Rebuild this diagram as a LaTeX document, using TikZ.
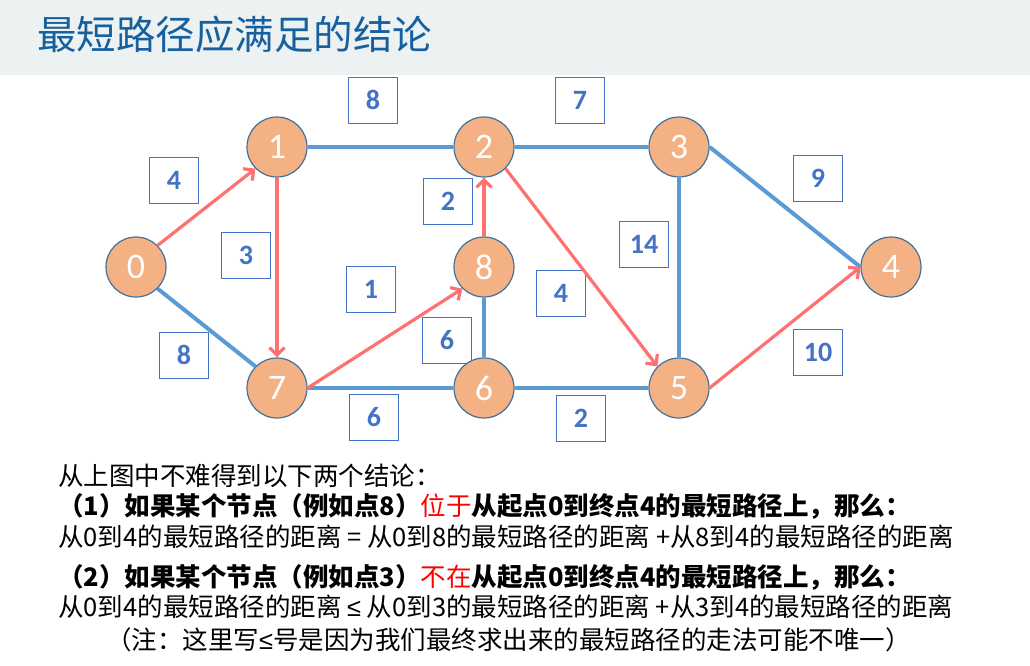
\documentclass[tikz,border=0pt]{standalone}
\usepackage{fontspec}
\setmainfont{Carlito}
\newfontfamily\cjk{Noto Sans CJK SC}
\newfontfamily\symf{Liberation Sans}
\usetikzlibrary{arrows.meta}
\definecolor{titlebg}{HTML}{ECF1F1}
\definecolor{titleblue}{HTML}{16609F}
\definecolor{nodefill}{HTML}{F4B183}
\definecolor{nodeedge}{HTML}{41719C}
\definecolor{boxblue}{HTML}{4472C4}
\definecolor{edgeblue}{HTML}{5B9BD5}
\definecolor{arrred}{HTML}{FF7070}
\definecolor{hired}{HTML}{FF0000}
\tikzset{
  vtx/.style={circle, fill=nodefill, draw=nodeedge, line width=1.2pt, minimum size=60pt, inner sep=0pt, text=white, font=\fontsize{36}{36}\selectfont},
  wbox/.style={draw=boxblue, line width=1pt, fill=white, minimum width=49pt, minimum height=46pt, inner sep=0pt, text=boxblue, font=\bfseries\fontsize{28}{28}\selectfont},
  bedge/.style={draw=edgeblue, line width=4pt},
  redge/.style={draw=arrred, line width=3.2pt, -{Straight Barb[length=7.5pt,width=15pt]}},
  txt/.style={anchor=west, inner sep=0pt, text=black, font=\cjk\fontsize{25.5}{25.5}\selectfont},
  ttl/.style={anchor=west, inner sep=0pt, text=titleblue, font=\cjk\fontsize{39.5}{39.5}\selectfont},
}
\begin{document}
\begin{tikzpicture}[x=1pt, y=-1pt]
\useasboundingbox (0,0) rectangle (1030,665);
\fill[titlebg] (0,0) rectangle (1030,75);
\node[ttl] (title) at (37,34) {最短路径应满足的结论};
% weight boxes
\node[wbox] (w12) at (373,100) {8};
\node[wbox] (w23) at (580,100) {7};
\node[wbox] (w01) at (174,180) {4};
\node[wbox] (w17) at (246,255) {3};
\node[wbox] (w82) at (448,201) {2};
\node[wbox] (w78) at (371,289) {1};
\node[wbox] (w07) at (184,355) {8};
\node[wbox] (w86) at (447,340) {6};
\node[wbox] (w76) at (374,417) {6};
\node[wbox] (w34) at (818,178) {9};
\node[wbox] (w35) at (644,244) {14};
\node[wbox] (w25) at (561,293) {4};
\node[wbox] (w54) at (818,352) {10};
\node[wbox] (w65) at (581,418) {2};
% vertices
\node[vtx] (n0) at (136,267) {0};
\node[vtx] (n1) at (277,147) {1};
\node[vtx] (n2) at (484,147) {2};
\node[vtx] (n3) at (679,147) {3};
\node[vtx] (n4) at (891,267) {4};
\node[vtx] (n5) at (679,388) {5};
\node[vtx] (n6) at (484,388) {6};
\node[vtx] (n7) at (277,388) {7};
\node[vtx] (n8) at (484,267) {8};
% blue edges
\draw[bedge] (n1.east) -- (n2.west);
\draw[bedge] (n2.east) -- (n3.west);
\draw[bedge] (n3.east) -- (n4.west);
\draw[bedge] (n3.south) -- (n5.north);
\draw[bedge] (n0.-45) -- (n7.135);
\draw[bedge] (n8.south) -- (n6.north);
\draw[bedge] (n7.east) -- (n6.west);
\draw[bedge] (n6.east) -- (n5.west);
% red arrows
\draw[redge] (n0.45) -- (n1.225);
\draw[redge] (n1.south) -- (n7.north);
\draw[redge] (n8.north) -- (n2.south);
\draw[redge] (n2.-45) -- (n5.135);
\draw[redge] (n7.east) -- (n8.225);
\draw[redge] (n5.east) -- (n4.west);
% text
\node[txt] (l1) at (58,476) {从上图中不难得到以下两个结论：};
\node[txt] (l2) at (58,506) {\bfseries （1）如果某个节点（例如点8）{\mdseries\color{hired}位于}从起点0到终点4的最短路径上，那么：};
\node[txt] (l3) at (58,537) {从0到4的最短路径的距离 = 从0到8的最短路径的距离 +从8到4的最短路径的距离};
\node[txt] (l4) at (58,577) {\bfseries （2）如果某个节点（例如点3）{\mdseries\color{hired}不在}从起点0到终点4的最短路径上，那么：};
\node[txt] (l5) at (58,607) {从0到4的最短路径的距离 {\symf ≤} 从0到3的最短路径的距离 +从3到4的最短路径的距离};
\node[txt] (l6) at (106,640) {（注：这里写{\symf ≤}号是因为我们最终求出来的最短路径的走法可能不唯一）};
\end{tikzpicture}
\end{document}
